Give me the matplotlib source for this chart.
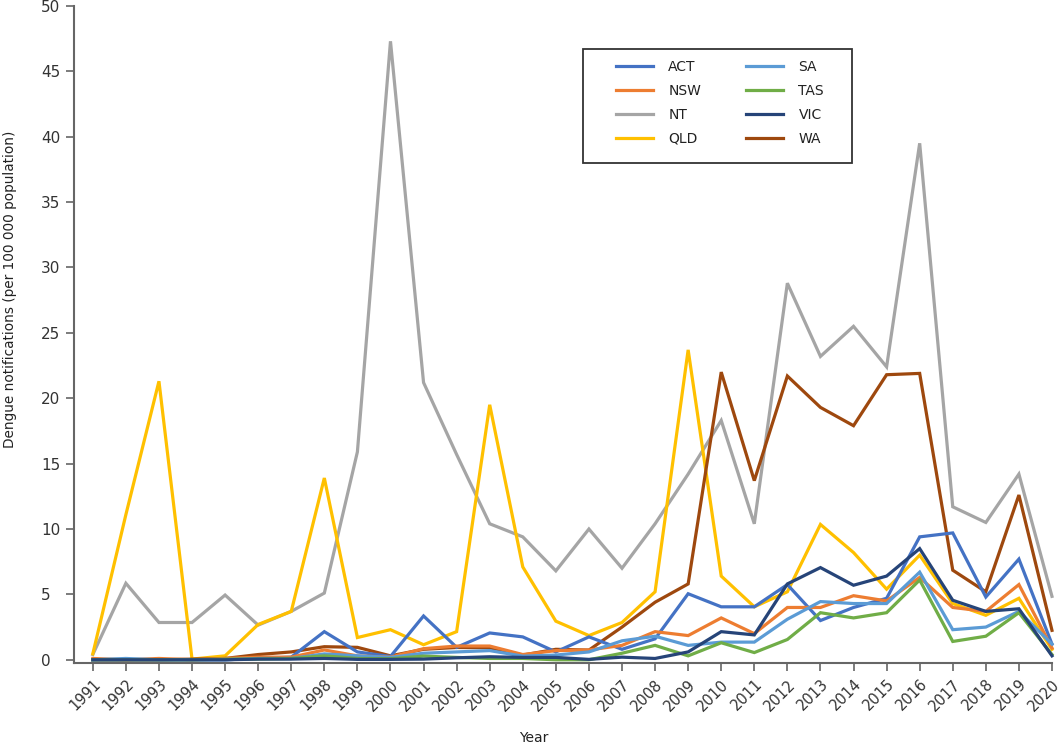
import numpy as np
import matplotlib
matplotlib.use("Agg")
import matplotlib.pyplot as plt
from matplotlib.patches import Rectangle

plt.rcParams['font.family'] = ['DejaVu Sans']

years = list(range(1991, 2021))

act = [0.0, 0.0, 0.0, 0.0, 0.0, 0.1, 0.2, 2.15, 0.6, 0.25, 3.35, 0.95, 2.05, 1.75, 0.6, 1.75, 0.8, 1.6, 5.05, 4.05,
       4.05, 5.75, 3.0, 4.0, 4.7, 9.4, 9.7, 4.8, 7.7, 1.2]
nsw = [0.1, 0.0, 0.1, 0.0, 0.1, 0.2, 0.2, 0.75, 0.3, 0.2, 0.85, 1.05, 1.05, 0.4, 0.7, 0.75, 1.1, 2.15, 1.85, 3.2,
       2.0, 4.0, 4.0, 4.9, 4.5, 6.3, 4.0, 3.7, 5.75, 0.9]
nt = [0.4, 5.85, 2.85, 2.85, 4.95, 2.65, 3.7, 5.1, 15.9, 47.3, 21.2, 15.7, 10.4, 9.4, 6.8, 10.0, 7.0, 10.4, 14.2, 18.3,
      10.4, 28.8, 23.2, 25.5, 22.4, 39.5, 11.7, 10.5, 14.2, 4.85]
qld = [0.45, 11.1, 21.3, 0.05, 0.3, 2.7, 3.7, 13.9, 1.7, 2.3, 1.15, 2.15, 19.5, 7.1, 2.95, 1.85, 2.85, 5.2, 23.7, 6.4,
       4.05, 5.2, 10.35, 8.2, 5.4, 8.0, 4.3, 3.4, 4.7, 0.8]
sa = [0.0, 0.1, 0.0, 0.0, 0.0, 0.1, 0.1, 0.45, 0.3, 0.18, 0.5, 0.6, 0.7, 0.28, 0.36, 0.6, 1.45, 1.8, 1.1, 1.35,
      1.35, 3.1, 4.45, 4.3, 4.3, 6.7, 2.3, 2.5, 3.7, 1.2]
tas = [0.0, 0.0, 0.0, 0.0, 0.05, 0.05, 0.1, 0.3, 0.1, 0.08, 0.28, 0.18, 0.1, 0.1, 0.0, 0.0, 0.5, 1.1, 0.3, 1.3,
       0.55, 1.55, 3.6, 3.2, 3.6, 6.1, 1.4, 1.8, 3.6, 0.4]
vic = [0.0, 0.0, 0.0, 0.0, 0.0, 0.05, 0.05, 0.1, 0.03, 0.03, 0.05, 0.15, 0.23, 0.18, 0.18, 0.03, 0.2, 0.1, 0.6, 2.15,
       1.9, 5.8, 7.05, 5.7, 6.4, 8.5, 4.55, 3.7, 3.9, 0.3]
wa = [0.0, 0.0, 0.0, 0.05, 0.1, 0.4, 0.6, 1.0, 0.95, 0.3, 0.8, 0.94, 0.92, 0.36, 0.8, 0.74, 2.5, 4.4, 5.8, 22.0,
      13.7, 21.7, 19.3, 17.9, 21.8, 21.9, 6.85, 5.2, 12.6, 2.25]

states = ['ACT', 'NSW', 'NT', 'QLD', 'SA', 'TAS', 'VIC', 'WA']
series = [act, nsw, nt, qld, sa, tas, vic, wa]
colours = ['#4472C4', '#ED7D31', '#A5A5A5', '#FFC000', '#5B9BD5', '#70AD47', '#264478', '#9E480E']

fig = plt.figure(figsize=(10.64, 7.47), dpi=100)
ax = fig.add_axes([0.0695, 0.1124, 0.9192, 0.8796])

# draw order: grey + yellow first, small ones on top
order = [2, 3, 7, 0, 1, 4, 5, 6]
lines = {}
for i in order:
    ln, = ax.plot(years, series[i], color=colours[i], lw=2.3, label=states[i],
                  solid_joinstyle='miter', clip_on=False)
    lines[i] = ln

ax.set_xlim(1990.43, 2020.0)
ax.set_ylim(-0.25, 50)
ax.set_yticks(np.arange(0, 51, 5))
ax.set_xticks(years)
ax.set_xticklabels([str(y) for y in years], rotation=45, ha='right', va='top',
                   rotation_mode='anchor', fontsize=10.5, color='#333333')
ax.tick_params(axis='x', length=5.8, width=1.2, color='#666666', pad=4)
ax.tick_params(axis='y', length=5.8, width=1.2, color='#666666', pad=18, labelsize=11,
               labelcolor='#333333')
for lab in ax.get_yticklabels():
    lab.set_horizontalalignment('left')

for s in ['top', 'right']:
    ax.spines[s].set_visible(False)
for s in ['left', 'bottom']:
    ax.spines[s].set_color('#666666')
    ax.spines[s].set_linewidth(1.5)

ax.set_ylabel('Dengue notifications (per 100 000 population)', fontsize=9.8, color='#222222')
ax.yaxis.set_label_coords(-0.058, 0.569)
ax.set_xlabel('Year', fontsize=10, color='#222222')
ax.xaxis.set_label_coords(0.47, -0.103)

handles = [lines[i] for i in range(8)]
leg = fig.legend(handles, states, ncol=2, loc='upper left',
                 bbox_to_anchor=(0.572, 0.929), bbox_transform=fig.transFigure,
                 frameon=False, fontsize=10, handlelength=2.7, handletextpad=1.1,
                 columnspacing=3.2, labelspacing=0.72, borderpad=0)
for t in leg.get_texts():
    t.set_color('#222222')

fig.patches.append(Rectangle((583 / 1064, 1 - 163 / 747), (852 - 583) / 1064, (163 - 49) / 747,
                             transform=fig.transFigure, fill=False, edgecolor='#333333', lw=1.3))

fig.savefig('out.png', dpi=100)
